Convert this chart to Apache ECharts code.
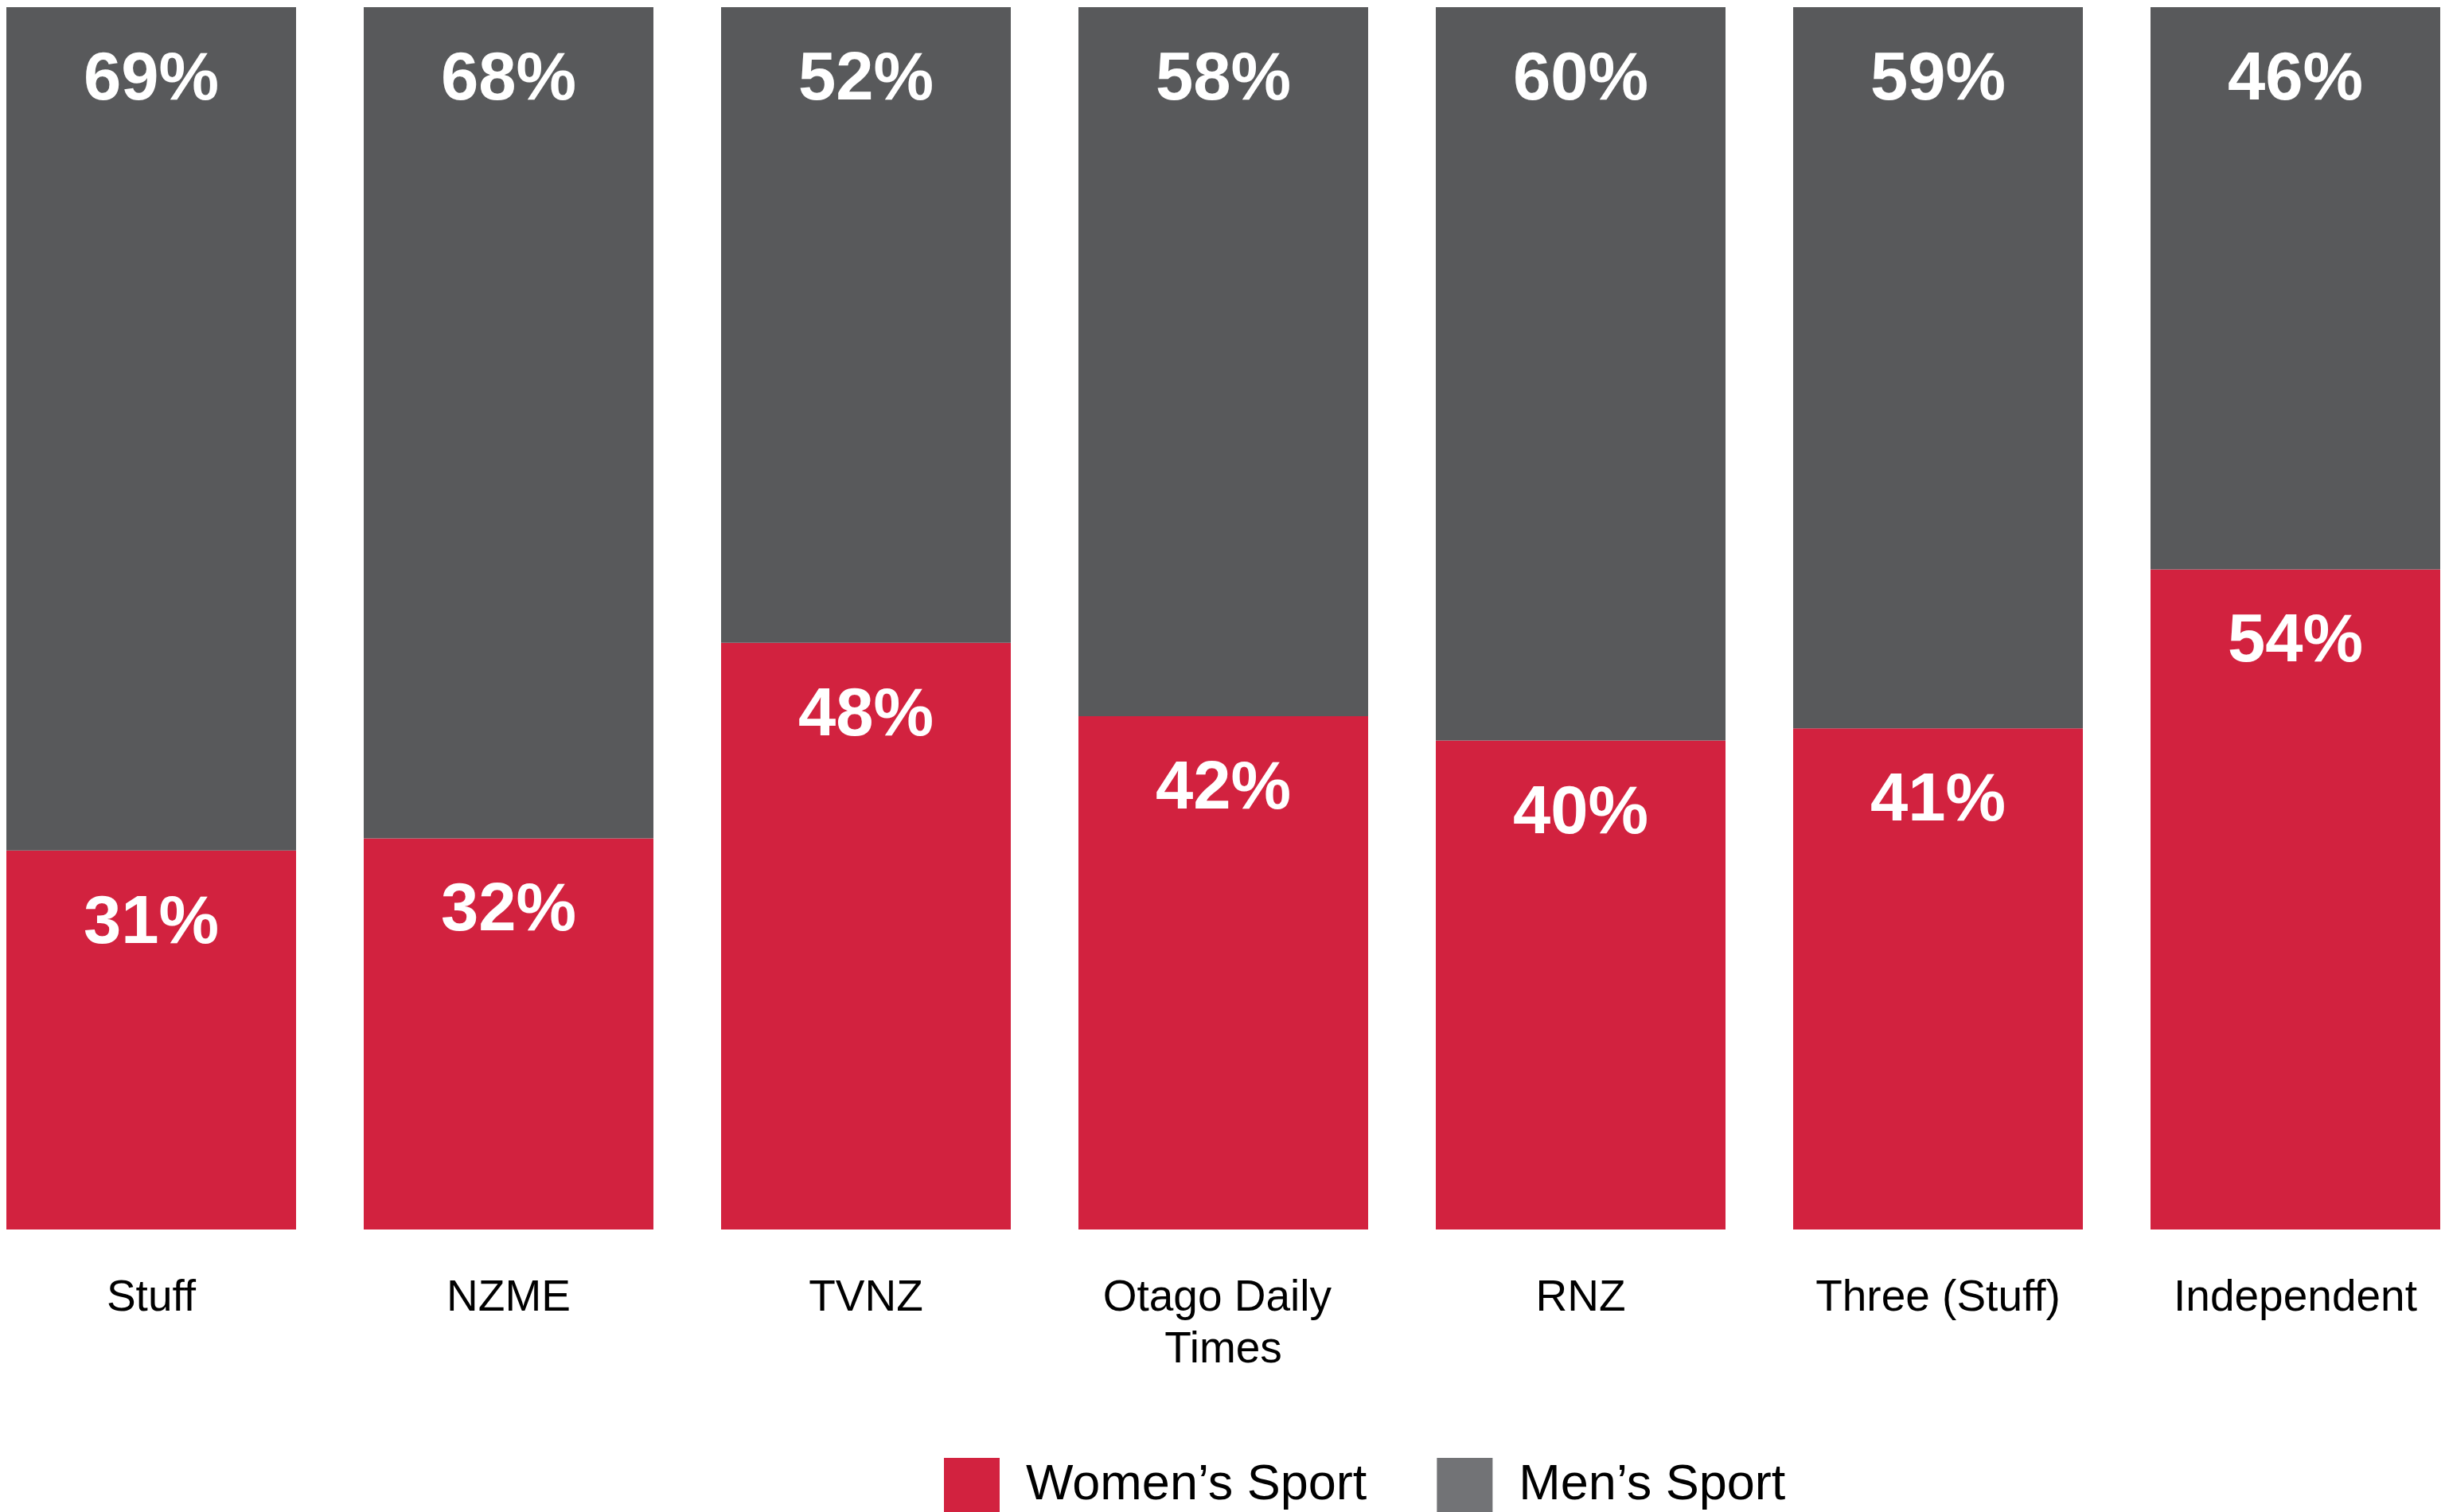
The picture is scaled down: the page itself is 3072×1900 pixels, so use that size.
<!DOCTYPE html>
<html>
<head>
<meta charset="utf-8">
<script src="https://cdn.jsdelivr.net/npm/echarts@6/dist/echarts.min.js"></script>
<style>
html,body{margin:0;padding:0;background:#fff;}
#chart{width:3072px;height:1900px;}
</style>
</head>
<body>
<div id="chart"></div>
<script>
const categories = ['Stuff', 'NZME', 'TVNZ', 'Otago Daily Times', 'RNZ', 'Three (Stuff)', 'Independent'];
const womenSport = [31, 32, 48, 42, 40, 41, 54];
const menSport = [69, 68, 52, 58, 60, 59, 46];
const seriesNames = ['Women\u2019s Sport', 'Men\u2019s Sport'];

const RED = '#D2223F';
const GRAY = '#58595B';
const LEGEND_GRAY = '#727376';
const FONT = '"Liberation Sans", Arial, Helvetica, sans-serif';

const chart = echarts.init(document.getElementById('chart'), null, {renderer: 'canvas'});

const labelCfg = {
  show: true,
  position: 'insideTop',
  distance: 50,
  color: '#ffffff',
  fontFamily: FONT,
  fontWeight: 'bold',
  fontSize: 85,
  lineHeight: 85,
  formatter: p => p.value + '%'
};

chart.setOption({
  backgroundColor: '#ffffff',
  animation: false,
  grid: {left: 190, right: 188, top: 9, bottom: 355, containLabel: false, outerBoundsMode: 'none'},
  legend: {
    left: 1181,
    top: 1827,
    itemWidth: 70,
    itemHeight: 70,
    itemGap: 88,
    icon: 'rect',
    selectedMode: false,
    textStyle: {fontFamily: FONT, fontSize: 63, color: '#000', padding: [0, 0, 0, 28]},
    data: [
      {name: seriesNames[0], itemStyle: {color: RED}},
      {name: seriesNames[1], itemStyle: {color: LEGEND_GRAY}}
    ]
  },
  xAxis: {
    type: 'category',
    data: categories,
    boundaryGap: false,
    axisLine: {show: false},
    axisTick: {show: false},
    splitLine: {show: false},
    axisLabel: {
      interval: 0,
      margin: 54,
      color: '#000',
      fontFamily: FONT,
      fontSize: 55,
      lineHeight: 65,
      width: 420,
      overflow: 'break'
    }
  },
  yAxis: {
    type: 'value',
    min: 0,
    max: 100,
    show: false,
    splitLine: {show: false}
  },
  series: [
    {
      name: seriesNames[0],
      type: 'bar',
      stack: 'total',
      barWidth: 364,
      clip: false,
      data: womenSport,
      itemStyle: {color: RED},
      label: labelCfg
    },
    {
      name: seriesNames[1],
      type: 'bar',
      stack: 'total',
      barWidth: 364,
      clip: false,
      data: menSport,
      itemStyle: {color: GRAY},
      label: labelCfg
    }
  ]
});
</script>
</body>
</html>
